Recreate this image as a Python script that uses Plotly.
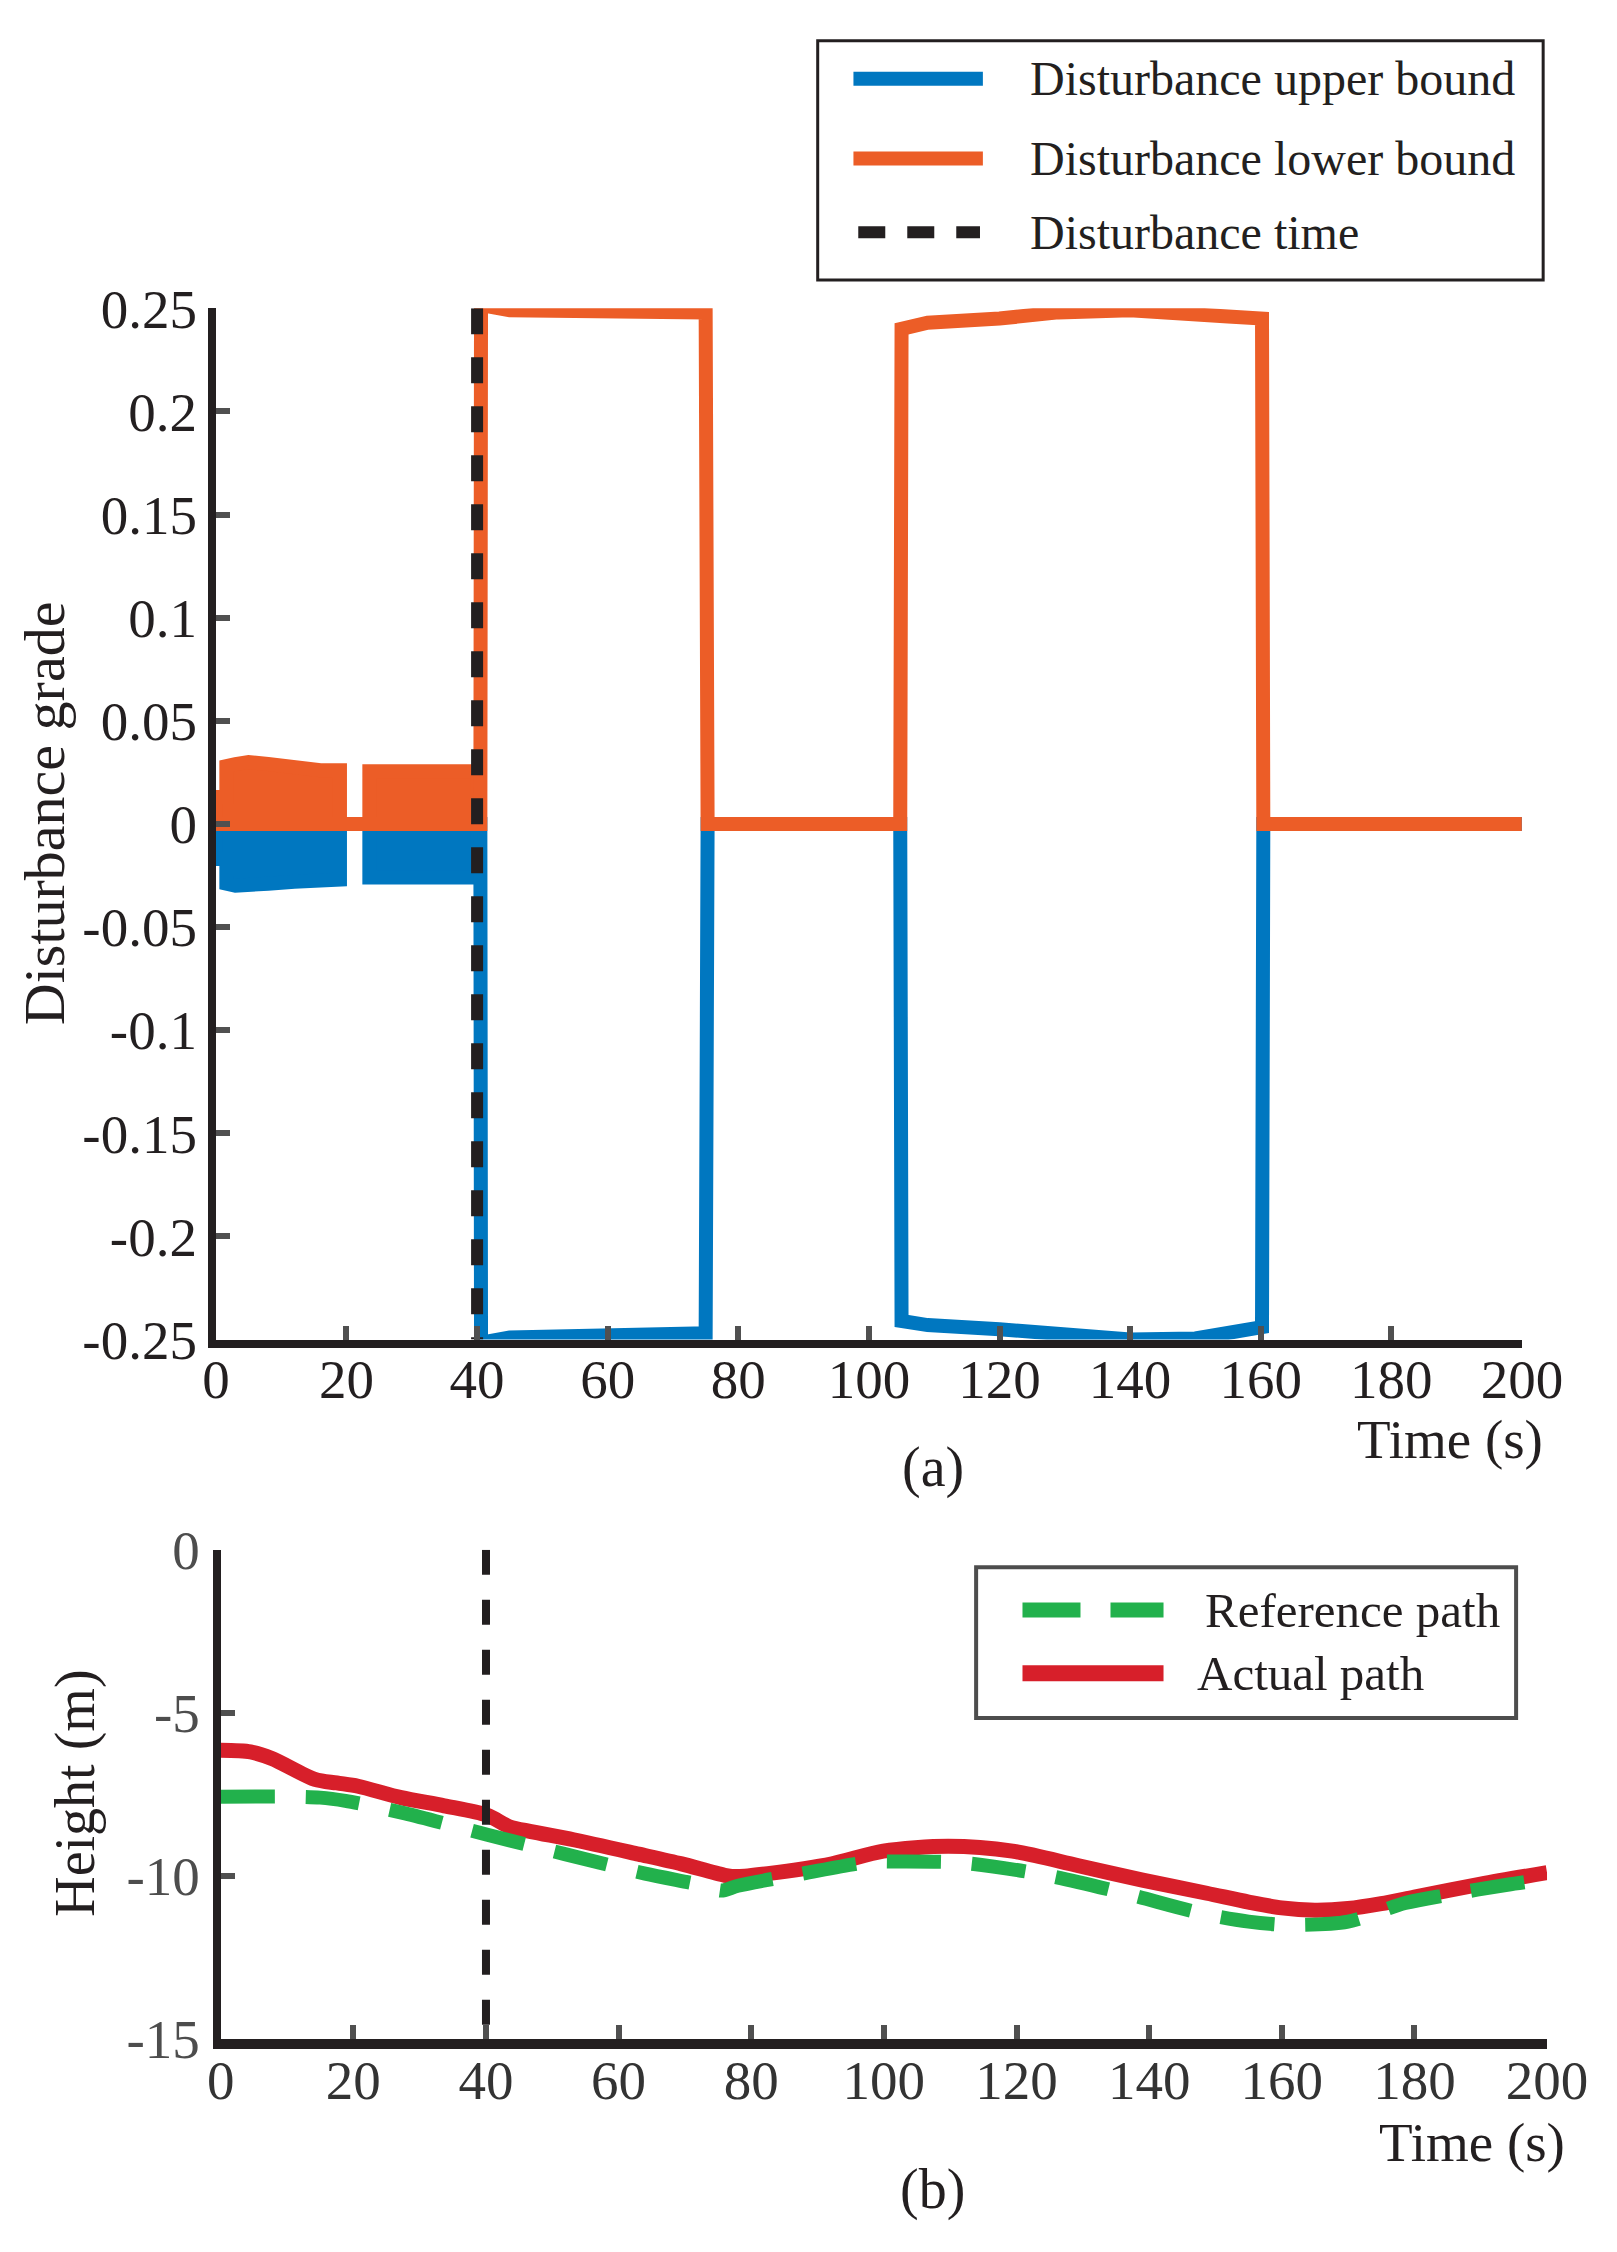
import plotly.graph_objects as go

# Figurstorlek (px) – samma som referensen
W, H = 1617, 2252

# ---------- Data, delfigur (a) ----------
# Snabb svängning i början (höljet för bandet)
osc_t = [0, 0, 1.6, 1.6, 3, 5, 8, 12, 16, 19, 19, 23.5, 23.5, 40, 40]
osc_upper = [0, -0.017, -0.017, -0.029, -0.030, -0.030, -0.029, -0.028, -0.027, -0.027, 0, 0, -0.026, -0.026, 0]
osc_lower = [0, 0.013, 0.013, 0.028, 0.029, 0.030, 0.029, 0.027, 0.026, 0.026, 0, 0, 0.0255, 0.0255, 0]

# Huvudförlopp efter störningen
bound_t = [0, 40.5, 40.6, 41.5, 45, 60, 75.0, 75.3, 104.8, 105.0, 109, 120, 129, 140, 150, 155, 160.2, 160.4, 200]
upper_bound = [0, 0, -0.250, -0.251, -0.249, -0.248, -0.247, 0, 0, -0.241, -0.243, -0.245, -0.248, -0.250, -0.2495, -0.246, -0.244, 0, 0]
lower_bound = [0, 0, 0.250, 0.251, 0.249, 0.248, 0.248, 0, 0, 0.240, 0.243, 0.245, 0.248, 0.249, 0.248, 0.246, 0.245, 0, 0]

dist_time = 40
names_a = ["Disturbance upper bound", "Disturbance lower bound", "Disturbance time"]
xticks_a = [0, 20, 40, 60, 80, 100, 120, 140, 160, 180, 200]
yticks_a = [0.25, 0.2, 0.15, 0.1, 0.05, 0, -0.05, -0.1, -0.15, -0.2, -0.25]
ytext_a = ["0.25", "0.2", "0.15", "0.1", "0.05", "0", "-0.05", "-0.1", "-0.15", "-0.2", "-0.25"]

# ---------- Data, delfigur (b) ----------
actual_t = [0, 4.5, 7.7, 14.2, 17.5, 20.7, 27.2, 33.7, 40.2, 43.5, 46.8, 53.2, 63, 69.5, 76, 78, 82.5,
            92.2, 99.9, 109.7, 119.4, 129.2, 139, 148.7, 155, 160, 165, 170, 175, 180, 190, 200]
actual_h = [-6.15, -6.2, -6.4, -7.04, -7.15, -7.25, -7.6, -7.85, -8.14, -8.49, -8.64, -8.89, -9.33, -9.63, -9.98, -10.02, -9.93,
            -9.63, -9.24, -9.09, -9.24, -9.68, -10.13, -10.53, -10.8, -10.98, -11.05, -11.0, -10.85, -10.65, -10.25, -9.9]
ref_t = [0, 10, 15, 18.8, 27.8, 40.2, 51.9, 64, 73, 75.5, 78, 87.7, 98, 102, 112, 124.6, 136.3, 148, 155, 161, 170, 178.6, 185, 194, 200]
ref_h = [-7.57, -7.57, -7.6, -7.7, -8.08, -8.74, -9.33, -9.93, -10.3, -10.45, -10.3, -9.93, -9.57, -9.56, -9.6, -9.98, -10.53, -11.15, -11.4, -11.5, -11.4, -10.83, -10.58, -10.27, -10.1]
names_b = ["Reference path", "Actual path"]
xticks_b = [0, 20, 40, 60, 80, 100, 120, 140, 160, 180, 200]
yticks_b = [0, -5, -10, -15]
ytext_b = ["0", "-5", "-10", "-15"]

BLUE = "#0077c0"
ORANGE = "#ec5d27"
GREEN = "#22b14c"
RED = "#d71f2a"
AXIS = "#231f20"
TICK = "#505050"
FONT = "Liberation Serif"


def px_x(p):
    return p / W


def px_y(p):
    return 1 - p / H


fig = go.Figure()

# (a) band + linjer
fig.add_trace(go.Scatter(x=osc_t, y=osc_upper, mode="lines", fill="tozeroy",
                         line=dict(color=BLUE, width=14), fillcolor=BLUE,
                         xaxis="x", yaxis="y", showlegend=False))
fig.add_trace(go.Scatter(x=bound_t, y=upper_bound, mode="lines", name=names_a[0],
                         line=dict(color=BLUE, width=14), xaxis="x", yaxis="y"))
fig.add_trace(go.Scatter(x=osc_t, y=osc_lower, mode="lines", fill="tozeroy",
                         line=dict(color=ORANGE, width=14), fillcolor=ORANGE,
                         xaxis="x", yaxis="y", showlegend=False))
fig.add_trace(go.Scatter(x=bound_t, y=lower_bound, mode="lines", name=names_a[1],
                         line=dict(color=ORANGE, width=14), xaxis="x", yaxis="y"))
fig.add_trace(go.Scatter(x=[dist_time, dist_time], y=[0.25, -0.25], mode="lines", name=names_a[2],
                         line=dict(color=AXIS, width=12, dash="26px,23px"), xaxis="x", yaxis="y"))

# (b) höjd
fig.add_trace(go.Scatter(x=actual_t, y=actual_h, mode="lines", name=names_b[1], line_shape="spline",
                         line=dict(color=RED, width=15, smoothing=0.8), xaxis="x2", yaxis="y2"))
fig.add_trace(go.Scatter(x=ref_t, y=ref_h, mode="lines", name=names_b[0], line_shape="spline",
                         line=dict(color=GREEN, width=14, dash="54px,31px", smoothing=0.8),
                         xaxis="x2", yaxis="y2"))
fig.add_trace(go.Scatter(x=[dist_time, dist_time], y=[0, -15], mode="lines", showlegend=False,
                         line=dict(color=AXIS, width=8, dash="25px,25px"), xaxis="x2", yaxis="y2"))

axis_common = dict(showgrid=False, zeroline=False, showline=True, linecolor=AXIS,
                   ticks="inside", tickcolor=TICK, tickwidth=6, ticklen=14,
                   tickfont=dict(family=FONT, size=55, color=AXIS))

fig.update_layout(
    width=W, height=H,
    margin=dict(l=0, r=0, t=0, b=0),
    paper_bgcolor="white", plot_bgcolor="white",
    showlegend=False,
    font=dict(family=FONT, color=AXIS),
    xaxis=dict(axis_common, domain=[px_x(209), px_x(1561)], anchor="y", range=[0, 200],
               tickvals=xticks_a, linewidth=8, ticklabelstandoff=-16),
    yaxis=dict(axis_common, domain=[px_y(1346), px_y(286)], anchor="x", range=[-0.25, 0.25],
               tickvals=yticks_a, ticktext=ytext_a, linewidth=8, ticklabelstandoff=0),
    xaxis2=dict(axis_common, domain=[px_x(214), px_x(1587)], anchor="y2", range=[0, 200],
                tickvals=xticks_b, linewidth=10, ticklabelstandoff=-16,
                tickfont=dict(family=FONT, size=55, color="#333333")),
    yaxis2=dict(axis_common, domain=[px_y(2065), px_y(1562)], anchor="x2", range=[-15, 0],
                tickvals=yticks_b, ticktext=ytext_b, linewidth=8, ticklabelstandoff=2,
                tickfont=dict(family=FONT, size=55, color="#4d4d4d")),
)

# Egen legend (långa linjeprover som i originalet)
shapes = [
    dict(type="rect", xref="paper", yref="paper", x0=px_x(832), x1=px_x(1583), y0=px_y(257), y1=px_y(11),
         line=dict(color=AXIS, width=3), fillcolor="white"),
    dict(type="line", xref="paper", yref="paper", x0=px_x(869), x1=px_x(1003), y0=px_y(50), y1=px_y(50),
         line=dict(color=BLUE, width=14)),
    dict(type="line", xref="paper", yref="paper", x0=px_x(869), x1=px_x(1003), y0=px_y(132), y1=px_y(132),
         line=dict(color=ORANGE, width=14)),
    dict(type="line", xref="paper", yref="paper", x0=px_x(874), x1=px_x(1000), y0=px_y(208), y1=px_y(208),
         line=dict(color=AXIS, width=12, dash="27px,22px")),
    dict(type="rect", xref="paper", yref="paper", x0=px_x(996), x1=px_x(1555), y0=px_y(1735), y1=px_y(1580),
         line=dict(color="#4d4d4d", width=4), fillcolor="white"),
    dict(type="line", xref="paper", yref="paper", x0=px_x(1044), x1=px_x(1190), y0=px_y(1624), y1=px_y(1624),
         line=dict(color=GREEN, width=15, dash="58px,30px")),
    dict(type="line", xref="paper", yref="paper", x0=px_x(1044), x1=px_x(1190), y0=px_y(1689), y1=px_y(1689),
         line=dict(color=RED, width=16)),
]
fig.update_layout(shapes=shapes)

texts = [
    (names_a[0], 1050, 50, "left", 48, 0),
    (names_a[1], 1050, 132, "left", 48, 0),
    (names_a[2], 1050, 208, "left", 48, 0),
    (names_b[0], 1231, 1624, "left", 49, 0),
    (names_b[1], 1223, 1689, "left", 49, 0),
    ("Disturbance grade", 31, 805, "center", 58, -90),
    ("Time (s)", 1585, 1449, "right", 55, 0),
    ("(a)", 951, 1478, "center", 56, 0),
    ("Height (m)", 64, 1812, "center", 56, -90),
    ("Time (s)", 1608, 2171, "right", 55, 0),
    ("(b)", 951, 2220, "center", 56, 0),
]
for txt, xp, yp, anchor, size, angle in texts:
    fig.add_annotation(text=txt, xref="paper", yref="paper", x=px_x(xp), y=px_y(yp),
                       xanchor=anchor, yanchor="middle", showarrow=False, textangle=angle,
                       font=dict(family=FONT, size=size, color=AXIS))

fig.write_html("out.html", config={"displayModeBar": False},
               post_script="document.body.style.margin='0';")
